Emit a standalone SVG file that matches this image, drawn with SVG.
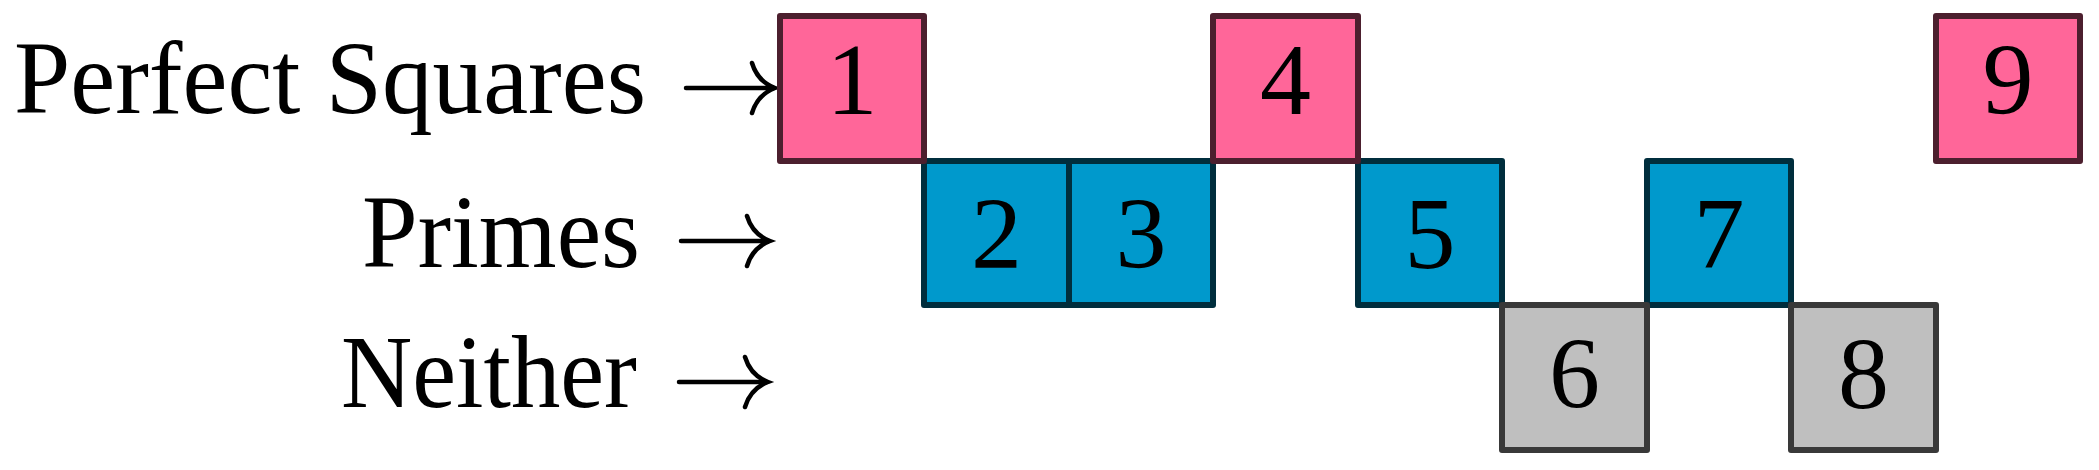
<svg xmlns="http://www.w3.org/2000/svg" width="2099" height="470" viewBox="0 0 2099 470">
<style>
.lbl{font-family:"Liberation Serif","DejaVu Serif",serif;font-size:104px;fill:#000}
.num{font-family:"Liberation Serif","DejaVu Serif",serif;font-size:102px;fill:#000;text-anchor:middle}
.sq{fill:#ff6699;stroke:#4c1f2e;stroke-width:6;stroke-linejoin:round;stroke-linecap:round}
.pr{fill:#0099cc;stroke:#002e3d;stroke-width:6;stroke-linejoin:round;stroke-linecap:round}
.ne{fill:#bfbfbf;stroke:#393939;stroke-width:6;stroke-linejoin:round;stroke-linecap:round}
.arr{fill:none;stroke:#000;stroke-width:4.5;stroke-linecap:round}
</style>
<rect width="2099" height="470" fill="#fff"/>
<g id="labels">
<text class="lbl" x="14" y="113" textLength="632" lengthAdjust="spacingAndGlyphs">Perfect Squares</text>
<text class="lbl" x="362" y="267" textLength="278" lengthAdjust="spacingAndGlyphs">Primes</text>
<text class="lbl" x="341" y="407" textLength="296" lengthAdjust="spacingAndGlyphs">Neither</text>
</g>
<g id="connectors">
<path class="arr" d="M686 88 H775 M752 63 C755 73 762 83 775 88 C762 93 755 103 752 113"/>
<path class="arr" d="M681 241 H770 M747 216 C750 226 757 236 770 241 C757 246 750 256 747 266"/>
<path class="arr" d="M679 382 H768 M745 357 C748 367 755 377 768 382 C755 387 748 397 745 407"/>
</g>
<g id="n2"><rect class="pr" x="924" y="161" width="145" height="144"/><text class="num" x="996.5" y="268">2</text></g>
<g id="n3"><rect class="pr" x="1069" y="161" width="144" height="144"/><text class="num" x="1141" y="268">3</text></g>
<g id="n5"><rect class="pr" x="1358" y="161" width="144" height="144"/><text class="num" x="1430" y="268">5</text></g>
<g id="n7"><rect class="pr" x="1647" y="161" width="144" height="144"/><text class="num" x="1719" y="268">7</text></g>
<g id="n6"><rect class="ne" x="1502" y="305" width="145" height="145"/><text class="num" x="1574.5" y="408">6</text></g>
<g id="n8"><rect class="ne" x="1791" y="305" width="145" height="145"/><text class="num" x="1863.5" y="408">8</text></g>
<g id="n1"><rect class="sq" x="780" y="16" width="144" height="145"/><text class="num" x="852" y="114">1</text></g>
<g id="n4"><rect class="sq" x="1213" y="16" width="145" height="145"/><text class="num" x="1285.5" y="114">4</text></g>
<g id="n9"><rect class="sq" x="1936" y="16" width="144" height="145"/><text class="num" x="2008" y="114">9</text></g>
</svg>
